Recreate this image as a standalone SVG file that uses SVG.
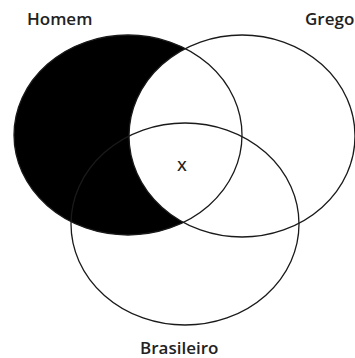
<svg xmlns="http://www.w3.org/2000/svg" width="355" height="358" viewBox="0 0 355 358">
  <style>
    .set { fill: none; stroke: #1a1a1a; stroke-width: 1.3; }
    .lbl { font-family: "Open Sans", "Noto Sans", "DejaVu Sans", sans-serif; font-size: 17px; font-weight: 600; fill: #222; }
  </style>
  <defs>
    <mask id="homemOnly" maskUnits="userSpaceOnUse" x="0" y="0" width="355" height="358">
      <rect x="0" y="0" width="355" height="358" fill="black"/>
      <ellipse cx="128" cy="135" rx="114" ry="100" fill="white"/>
      <ellipse cx="242" cy="136" rx="113" ry="101" fill="black"/>
    </mask>
  </defs>
  <rect width="355" height="358" fill="#fff"/>
  <g id="homem">
    <rect x="0" y="0" width="355" height="358" fill="#000" mask="url(#homemOnly)"/>
    <ellipse class="set" cx="128" cy="135" rx="114" ry="100"/>
    <text class="lbl" x="27" y="25">Homem</text>
  </g>
  <g id="grego">
    <ellipse class="set" cx="242" cy="136" rx="113" ry="101"/>
    <text class="lbl" x="305" y="25">Grego</text>
  </g>
  <g id="brasileiro">
    <ellipse class="set" cx="185" cy="224" rx="114" ry="101"/>
    <text class="lbl" x="140" y="354">Brasileiro</text>
  </g>
  <g id="x">
    <text class="lbl" x="182" y="171" text-anchor="middle" style="font-size:15px">X</text>
  </g>
  <g id="connectors"/>
</svg>
